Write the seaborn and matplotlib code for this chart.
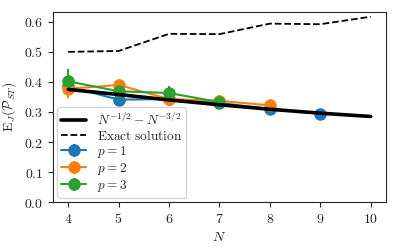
import matplotlib
matplotlib.use("Agg")
import matplotlib.pyplot as plt
import seaborn as sns
import pandas as pd
from matplotlib.ticker import FuncFormatter

# data
N_all = [4, 5, 6, 7, 8, 9, 10]
scaling = [0.375, 0.358, 0.340, 0.324, 0.309, 0.296, 0.285]
exact = [0.500, 0.503, 0.560, 0.559, 0.594, 0.592, 0.617]

N_p1 = [4, 5, 6, 7, 8, 9]
val_p1 = [0.385, 0.341, 0.343, 0.330, 0.310, 0.294]
err_p1 = [0.020, 0.015, 0.012, 0.012, 0.015, 0.012]

N_p2 = [4, 5, 6, 7, 8]
val_p2 = [0.377, 0.390, 0.343, 0.337, 0.322]
err_p2 = [0.030, 0.020, 0.015, 0.020, 0.010]

N_p3 = [4, 5, 6, 7]
val_p3 = [0.402, 0.369, 0.363, 0.333]
err_p3 = [0.040, 0.012, 0.025, 0.015]

sns.set_style("ticks")
plt.rcParams["font.family"] = ["DejaVu Serif"]
plt.rcParams["mathtext.fontset"] = "cm"
plt.rcParams["font.size"] = 10

fig = plt.figure(figsize=(3.99, 2.48), dpi=100)
ax = fig.add_axes([0.133, 0.185, 0.834, 0.767])

df = pd.DataFrame({"N": N_all, "scaling": scaling, "exact": exact})
sns.lineplot(data=df, x="N", y="scaling", color="black", lw=2.6, ax=ax,
             label=r"$N^{-1/2}-N^{-3/2}$", zorder=5)
sns.lineplot(data=df, x="N", y="exact", color="black", lw=1.3, ls="--", ax=ax,
             label=r"$\mathrm{Exact\ solution}$")

pal = sns.color_palette("tab10")
for i, (n, v, e) in enumerate([(N_p1, val_p1, err_p1), (N_p2, val_p2, err_p2), (N_p3, val_p3, err_p3)]):
    ax.errorbar(n, v, yerr=e, color=pal[i], marker="o", ms=8, lw=1.5,
                elinewidth=1.5, capsize=0, label=rf"$p={i + 1}$", zorder=3)

ax.set_xlim(3.7, 10.3)
ax.set_ylim(0, 0.633)
ax.set_xticks(N_all)
ax.set_yticks([0, 0.1, 0.2, 0.3, 0.4, 0.5, 0.6])
ax.xaxis.set_major_formatter(FuncFormatter(lambda v, p: f"${v:.0f}$"))
ax.yaxis.set_major_formatter(FuncFormatter(lambda v, p: f"${v:.1f}$"))
ax.tick_params(labelsize=10, length=3.5, width=0.8)
ax.set_xlabel(r"$N$", fontsize=10, labelpad=3)
ax.set_ylabel(r"$\mathrm{E}_J(\mathcal{P}_{ST})$", fontsize=10, labelpad=4)
for s in ax.spines.values():
    s.set_linewidth(0.8)

leg = ax.legend(loc="lower left", fontsize=9.6, frameon=True, fancybox=True,
                handlelength=1.9, borderpad=0.3, labelspacing=0.08,
                borderaxespad=0.3)
leg.set_zorder(10)

fig.savefig("out.png", dpi=100)
